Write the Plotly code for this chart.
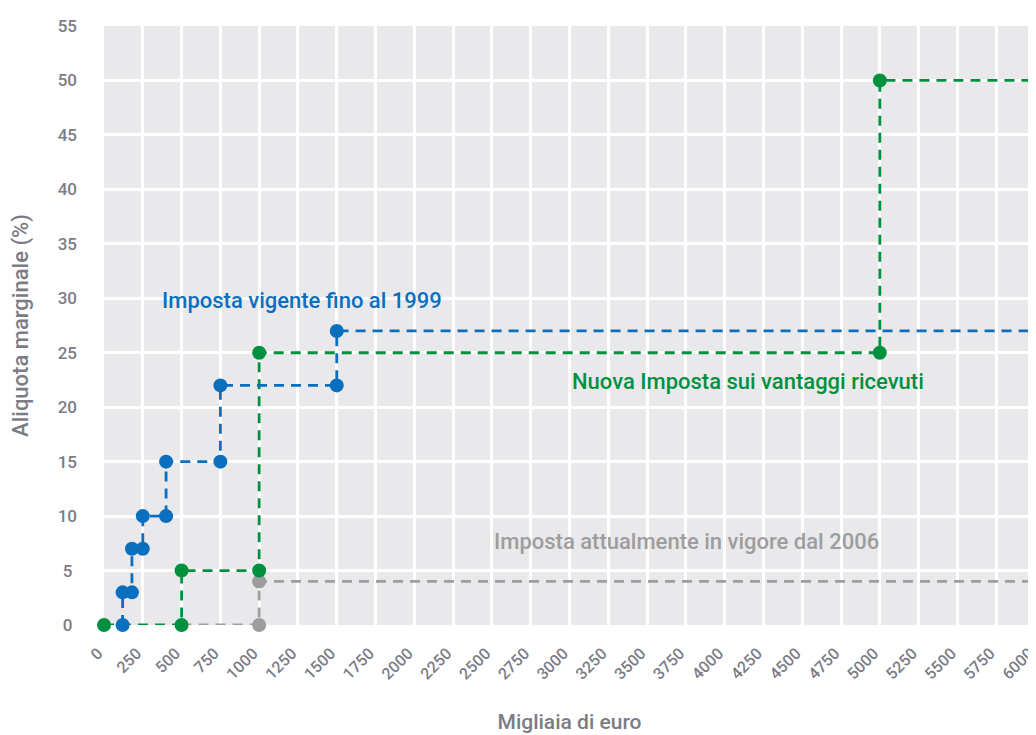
import plotly.graph_objects as go

# Data (thousands of euro, marginal rate %)
blue_x = [120, 120, 180, 180, 250, 250, 400, 400, 750, 750, 1500, 1500, 6000]
blue_y = [0, 3, 3, 7, 7, 10, 10, 15, 15, 22, 22, 27, 27]
blue_marker_x = blue_x[:-1]
blue_marker_y = blue_y[:-1]

green_x = [0, 500, 500, 1000, 1000, 5000, 5000, 6000]
green_y = [0, 0, 5, 5, 25, 25, 50, 50]
green_marker_x = green_x[:-1]
green_marker_y = green_y[:-1]

gray_x = [500, 1000, 1000, 6000]
gray_y = [0, 0, 4, 4]
gray_marker_x = [1000, 1000]
gray_marker_y = [0, 4]

x_ticks = list(range(0, 6001, 250))
y_ticks = list(range(0, 56, 5))
y_ticktext = [str(v) if v >= 10 else str(v) + "\u2008" for v in y_ticks]

BLUE = "#0a6fbe"
GREEN = "#00913f"
GRAY = "#9d9d9d"
TXT = "#7b7c86"
FONT = "Roboto"

fig = go.Figure()

def add_series(x, y, mx, my, color):
    fig.add_trace(go.Scatter(x=x, y=y, mode="lines",
                             line=dict(color=color, width=2.8, dash="10px,7px"),
                             hoverinfo="skip", showlegend=False, cliponaxis=False))
    fig.add_trace(go.Scatter(x=mx, y=my, mode="markers",
                             marker=dict(color=color, size=14),
                             showlegend=False, cliponaxis=False))

add_series(gray_x, gray_y, gray_marker_x, gray_marker_y, GRAY)
add_series(green_x, green_y, green_marker_x, green_marker_y, GREEN)
add_series(blue_x, blue_y, blue_marker_x, blue_marker_y, BLUE)

fig.add_annotation(x=361, y=29.8, text="Imposta vigente fino al 1999", showarrow=False,
                   xanchor="left", yanchor="middle",
                   font=dict(family=FONT, size=22, color=BLUE, weight=500))
fig.add_annotation(x=3003, y=22.4, text="Nuova Imposta sui vantaggi ricevuti", showarrow=False,
                   xanchor="left", yanchor="middle",
                   font=dict(family=FONT, size=22, color=GREEN, weight=500))
fig.add_annotation(x=2500, y=7.7, text="Imposta attualmente in vigore dal 2006", showarrow=False,
                   xanchor="left", yanchor="middle",
                   font=dict(family=FONT, size=22, color=GRAY, weight=500))

fig.update_layout(
    width=1028, height=727,
    margin=dict(l=96, r=1, t=18, b=110),
    paper_bgcolor="white", plot_bgcolor="#e9e9ec",
    font=dict(family=FONT, color=TXT, size=17, weight=500),
    xaxis=dict(range=[0, 6000], tickvals=x_ticks, ticktext=[str(v) for v in x_ticks],
               tickangle=-45, showgrid=True, gridcolor="white", gridwidth=3,
               zeroline=False, showline=False, ticks="", automargin=False,
               ticklabelstandoff=15, ticklabelshift=-6, ticklabeloverflow="allow",
               tickfont=dict(size=16, color=TXT),
               title=dict(text="Migliaia di euro", font=dict(size=21, color=TXT), standoff=32)),
    yaxis=dict(range=[0, 55], tickvals=y_ticks, ticktext=y_ticktext,
               showgrid=True, gridcolor="white", gridwidth=3,
               zeroline=False, showline=False, ticks="", ticklabelstandoff=26, automargin=False,
               tickfont=dict(size=17, color=TXT),
               title=dict(text="Aliquota marginale (%)", font=dict(size=22, color=TXT), standoff=22)),
)

fig.write_html("out.html")
